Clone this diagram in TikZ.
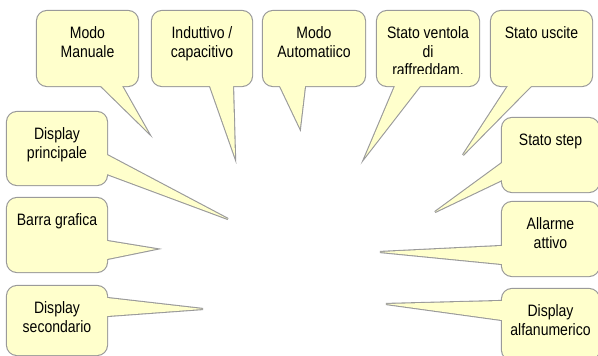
\documentclass[tikz,border=0pt]{standalone}
\usepackage{fontspec}
\setmainfont[FakeStretch=0.85]{Liberation Sans}
\usetikzlibrary{fit,calc}
\pgfdeclarelayer{strokes}
\pgfdeclarelayer{fills}
\pgfsetlayers{strokes,fills,main}
\definecolor{cfill}{HTML}{FFFFCC}
\definecolor{cline}{HTML}{9A9A9A}
\tikzset{
  boxshape/.style={rectangle, inner sep=0pt, outer sep=0pt},
  lbl/.style={align=center, inner sep=0pt, anchor=north, font=\fontsize{16.5}{18.3}\selectfont, text=black},
  outl/.style={draw=cline, line width=2.2pt, rounded corners=10pt},
  tailoutl/.style={draw=cline, line width=2.2pt, line join=miter},
  fillc/.style={fill=cfill, rounded corners=10pt},
}
\newcommand\mycallout[6]{%
  \coordinate (#1-nw) at (#2);
  \coordinate (#1-se) at (#3);
  \node[boxshape, fit=(#1-nw)(#1-se)] (#1) {};
  \coordinate (#1-b1) at (#4);
  \coordinate (#1-b2) at (#5);
  \coordinate (#1-tip) at (#6);
  \begin{pgfonlayer}{strokes}
    \draw[outl] (#1.north west) rectangle (#1.south east);
    \draw[tailoutl] (#1-b1) -- (#1-tip) -- (#1-b2) -- cycle;
  \end{pgfonlayer}
  \begin{pgfonlayer}{fills}
    \fill[fillc] (#1.north west) rectangle (#1.south east);
    \fill[cfill] (#1-b1) -- (#1-tip) -- (#1-b2) -- cycle;
  \end{pgfonlayer}
}
\begin{document}
\begin{tikzpicture}[x=1pt,y=-1pt]
\useasboundingbox (0,0) rectangle (598,356);
\clip (0,0) rectangle (598,356);
% top row
\mycallout{mm}{37,11}{138,86}{101,86}{122,86}{148,132}
\mycallout{ic}{152,11}{252,86}{210,86}{233,86}{235,157}
\mycallout{ma}{263,11}{365,86}{280,86}{305,86}{300,128}
\mycallout{sv}{377,11}{479,86}{395,86}{420,86}{365,157}
\mycallout{su}{491,11}{592,86}{508,86}{531,86}{463,155}
% right column
\mycallout{ss}{502,118}{599,192}{502,163}{502,180}{435,212}
\mycallout{aa}{502,202}{599,276}{502,246}{502,264}{380,252}
\mycallout{da}{502,289}{599,360}{502,301}{502,320}{386,304}
% left column
\mycallout{dp}{7,112}{107,185}{107,155}{107,174}{228,219}
\mycallout{bg}{7,198}{107,272}{107,241}{107,259}{156,249}
\mycallout{ds}{7,286}{107,355}{107,298}{107,316}{203,309}
% labels
\node[lbl] (mm-t) at ($(mm.north)+(0,15.6)$) {Modo\\Manuale};
\node[lbl] (ic-t) at ($(ic.north)+(0,15.6)$) {Induttivo /\\capacitivo};
\node[lbl] (ma-t) at ($(ma.north)+(0,15.6)$) {Modo\\Automatiico};
\begin{scope}
\clip (377,11) rectangle (479,73.5);
\node[lbl] (sv-t) at ($(sv.north)+(0,15.6)$) {Stato ventola\\di\\raffreddam.};
\end{scope}
\node[lbl] (su-t) at ($(su.north)+(0,15.6)$) {Stato uscite};
\node[lbl] (ss-t) at ($(ss.north)+(0,15.6)$) {Stato step};
\node[lbl] (aa-t) at ($(aa.north)+(0,15.6)$) {Allarme\\attivo};
\node[lbl] (da-t) at ($(da.north)+(0,15.6)$) {Display\\alfanumerico};
\node[lbl] (dp-t) at ($(dp.north)+(0,15.6)$) {Display\\principale};
\node[lbl] (bg-t) at ($(bg.north)+(0,15.6)$) {Barra grafica};
\node[lbl] (ds-t) at ($(ds.north)+(0,15.6)$) {Display\\secondario};
\end{tikzpicture}
\end{document}
